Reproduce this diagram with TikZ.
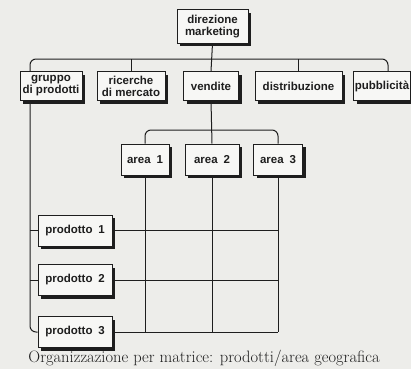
\documentclass[tikz,border=0pt]{standalone}
\usepackage{fontspec}
\setsansfont{Liberation Sans}
\usetikzlibrary{shadows}
\definecolor{paper}{RGB}{237,237,234}
\definecolor{boxfill}{RGB}{247,247,245}
\definecolor{ink}{RGB}{30,30,30}
\tikzset{
  orgbox/.style={draw=ink, line width=1pt, fill=boxfill, text=ink,
    font=\sffamily\bfseries\fontsize{11.5}{12}\selectfont, align=center,
    inner sep=1pt,
    drop shadow={shadow xshift=3pt, shadow yshift=-3pt, fill=ink, opacity=1}},
  link/.style={draw=ink, line width=1pt},
}
\begin{document}
\begin{tikzpicture}[x=1pt, y=-1pt]
  % background and frame
  \fill[paper] (0,0) rectangle (411,369);
  \useasboundingbox (0,0) rectangle (411,369);
  \begin{scope}
    \clip (0,0) rectangle (411,369);
    % top
    \node[orgbox, minimum width=71pt, minimum height=33pt] (dir) at (212.5,26.5) {direzione\\marketing};
    % functions
    \node[orgbox, minimum width=62pt, minimum height=29pt] (gruppo) at (51,86) {gruppo\\di prodotti};
    \node[orgbox, minimum width=68pt, minimum height=29pt] (ricerche) at (131,86) {ricerche\\di mercato};
    \node[orgbox, minimum width=55pt, minimum height=29pt] (vendite) at (211,86) {vendite};
    \node[orgbox, minimum width=87pt, minimum height=29pt] (distrib) at (298.5,86) {distribuzione};
    \node[orgbox, minimum width=57pt, minimum height=29pt, inner sep=0pt] (pubbl) at (382,86) {pubblicità};
    % areas
    \node[orgbox, minimum width=48pt, minimum height=31pt] (area1) at (145,159.5) {area\hspace{0.5em}1};
    \node[orgbox, minimum width=54pt, minimum height=31pt] (area2) at (212,159.5) {area\hspace{0.5em}2};
    \node[orgbox, minimum width=49pt, minimum height=31pt] (area3) at (278,159.5) {area\hspace{0.5em}3};
    % products
    \node[orgbox, minimum width=74pt, minimum height=31pt] (prod1) at (75,230.5) {prodotto\hspace{0.5em}1};
    \node[orgbox, minimum width=74pt, minimum height=31pt] (prod2) at (75,280) {prodotto\hspace{0.5em}2};
    \node[orgbox, minimum width=74pt, minimum height=31pt] (prod3) at (75,332) {prodotto\hspace{0.5em}3};
    % bus under direzione
    \coordinate (topbus) at (212,59);
    \coordinate (leftrail) at (30,0);
    \coordinate (rightrail) at (388,0);
    \draw[link] (dir.south) -- (vendite.north);
    \draw[link, rounded corners=6pt] (gruppo.north -| leftrail) |- (topbus) -| (pubbl.north -| rightrail);
    \draw[link] (ricerche.north) -- (ricerche.north |- topbus);
    \draw[link] (distrib.north) -- (distrib.north |- topbus);
    % bus under vendite
    \coordinate (areabus) at (212,130);
    \draw[link] (vendite.south) -- (area2.north);
    \draw[link, rounded corners=6pt] (area1.north) |- (areabus) -| (area3.north);
    % left rail to products
    \draw[link, rounded corners=6pt] (gruppo.south -| leftrail) |- (prod3.west);
    \draw[link] (prod1.west -| leftrail) -- (prod1.west);
    \draw[link] (prod2.west -| leftrail) -- (prod2.west);
    % matrix
    \foreach \p in {prod1,prod2,prod3}
      \draw[link] (\p.east) -- (\p.east -| area3.south);
    \foreach \a in {area1,area2,area3}
      \draw[link] (\a.south) -- (\a.south |- prod3.east);
  \end{scope}
  % caption
  \node[text=ink, font=\fontsize{16.5}{18}\selectfont, inner sep=0pt] (caption) at (204,358)
    {Organizzazione per matrice: prodotti/area geografica};
\end{tikzpicture}
\end{document}
